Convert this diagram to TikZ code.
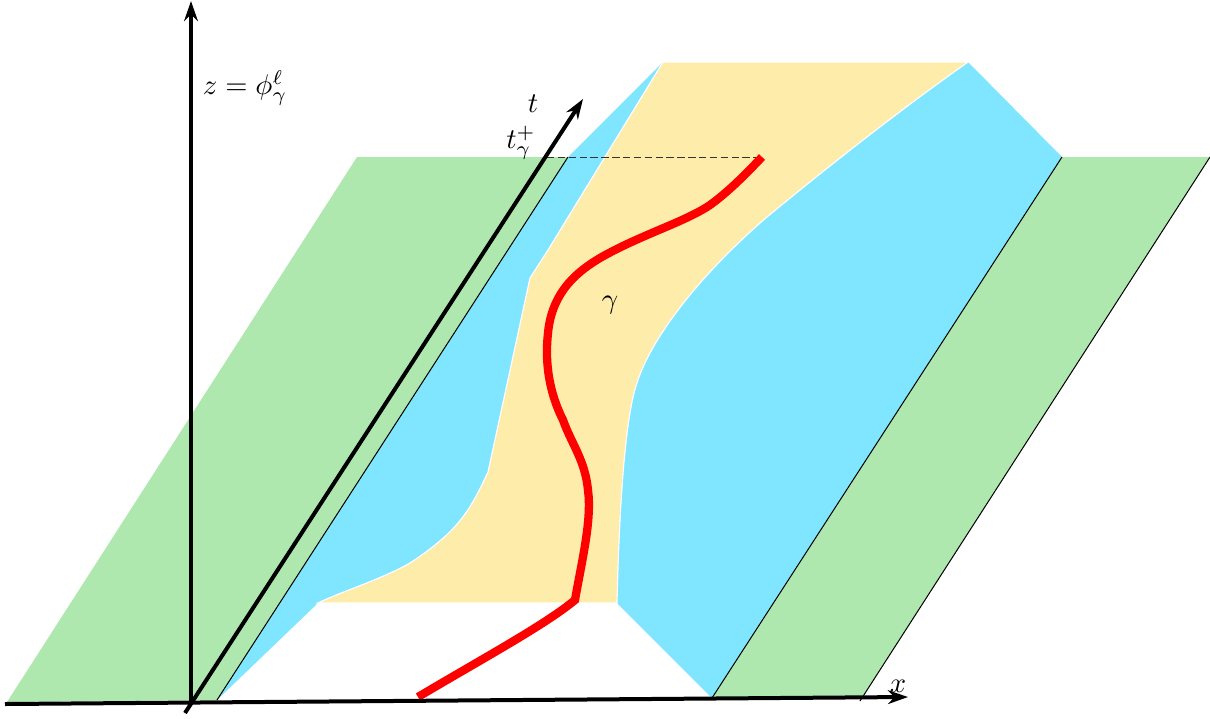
\documentclass[tikz,border=0pt]{standalone}
\usetikzlibrary{arrows.meta}
\definecolor{bandgreen}{RGB}{175,232,175}
\definecolor{bandblue}{RGB}{128,229,255}
\definecolor{bandyellow}{RGB}{254,236,170}
\begin{document}
\begin{tikzpicture}[x=0.35pt,y=-0.35pt,
  axis/.style={line width=1.4pt,-{Stealth[length=7pt,width=4.8pt]}},
  thinedge/.style={line width=0.35pt,black},
  curve/.style={red,line width=2.9pt},
  lbl/.style={inner sep=0pt}]
\path[use as bounding box] (0,0) rectangle (1210,718);
% green bands
\fill[bandgreen] (7,702) -- (357,157) -- (568,157) -- (217,700) -- cycle;
\fill[bandgreen] (712,698) -- (1062,157) -- (1210,157) -- (862,698) -- cycle;
% blue bands
\fill[bandblue] (217,700) -- (568,157) -- (663,62) -- (548,250) -- (530,278)
  -- (488,472) .. controls (470,510) and (460,530) .. (410,563)
  .. controls (380,580) and (340,592) .. (318,603) -- cycle;
\fill[bandblue] (968,62) -- (1062,157) -- (712,698) -- (617,603)
  .. controls (619,520) and (624,420) .. (637,383)
  .. controls (652,335) and (705,270) .. (767,217)
  .. controls (830,165) and (900,110) .. (968,62) -- cycle;
% yellow band
\fill[bandyellow,draw=white,line width=0.4pt] (663,62) -- (968,62)
  .. controls (900,110) and (830,165) .. (767,217)
  .. controls (705,270) and (652,335) .. (637,383)
  .. controls (624,420) and (619,520) .. (617,603)
  -- (318,603)
  .. controls (340,592) and (380,580) .. (410,563)
  .. controls (460,530) and (470,510) .. (488,472)
  -- (530,278) -- (548,250) -- cycle;
% thin edges
\coordinate (e1a) at (217,700); \coordinate (e1b) at (568,157);
\coordinate (e2a) at (712,698); \coordinate (e2b) at (1062,157);
\coordinate (e3a) at (860,701); \coordinate (e3b) at (1210,157);
\draw[thinedge] (e1a) -- (e1b);
\draw[thinedge] (e2a) -- (e2b);
\draw[thinedge] (e3a) -- (e3b);
% dashed level line
\coordinate (tp) at (547,157);
\coordinate (gend) at (762,157);
\draw[line width=0.35pt,black!80,dash pattern=on 2.6pt off 1.2pt] (tp) -- (gend);
% red curve gamma
\draw[curve] (418,697) .. controls (480,660) and (545,625) .. (575,600)
  .. controls (582,560) and (592,520) .. (588,490)
  .. controls (585,460) and (572,445) .. (563,420)
  .. controls (548,390) and (545,360) .. (548,333)
  .. controls (552,290) and (580,270) .. (600,258)
  .. controls (640,235) and (685,222) .. (710,205)
  .. controls (728,192) and (745,175) .. (762,157);
% axes
\coordinate (O1) at (5,704); \coordinate (X) at (908,697);
\coordinate (Z0) at (191,705); \coordinate (Z) at (191,1);
\coordinate (T0) at (185,713); \coordinate (T) at (583,99);
\draw[axis] (O1) -- (X);
\draw[axis] (Z0) -- (Z);
\draw[axis] (T0) -- (T);
% labels
\node[lbl] (lz) at (245,88) {$z=\phi^{\ell}_{\gamma}$};
\node[lbl] (lt) at (533,104) {$t$};
\node[lbl] (ltp) at (521,143) {$t^{+}_{\gamma}$};
\node[lbl] (lx) at (898,686) {$x$};
\node[lbl] (lg) at (610,305) {$\gamma$};
\end{tikzpicture}
\end{document}
